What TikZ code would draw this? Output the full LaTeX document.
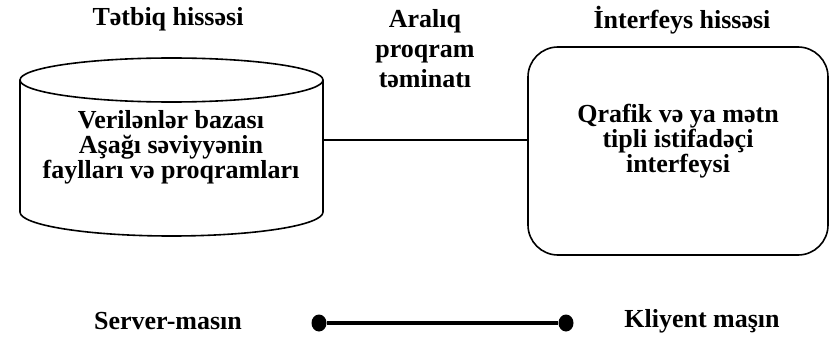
\documentclass[tikz,border=0pt]{standalone}
\usepackage{fontspec}
\setmainfont{Liberation Serif}
\usetikzlibrary{shapes.geometric}
\begin{document}
\begin{tikzpicture}[x=1pt,y=-1pt,
  txt/.style={font=\fontsize{26}{25}\selectfont\bfseries, align=center, inner sep=0pt},
  outline/.style={line width=1.6pt},
  uibox/.style={draw, line width=1.6pt, rounded corners=30pt, minimum width=300pt, minimum height=208pt, inner sep=0pt},
  dotnode/.style={fill=black, ellipse, minimum width=15pt, minimum height=17pt, inner sep=0pt},
  thickline/.style={line width=4.5pt}]
\useasboundingbox (0,0) rectangle (838,337);
% titles
\node[txt] (t1) at (168,19) {Tətbiq hissəsi};
\node[txt, font=\fontsize{26}{30}\selectfont\bfseries] (t2) at (425,49) {Aralıq\\proqram\\təminatı};
\node[txt] (t3) at (682,20) {İnterfeys hissəsi};
% cylinder
\draw[outline] (171.5,80) ellipse [x radius=151.5, y radius=22];
\draw[outline] (20,80) -- (20,212) arc[start angle=180, end angle=0, x radius=151.5, y radius=24] -- (323,80);
\node[inner sep=0pt, minimum width=303pt, minimum height=132pt] (db) at (171.5,146) {};
\node[txt] (dbtext) at (171,147) {Verilənlər bazası\\Aşağı səviyyənin\\faylları və proqramları};
% interface box
\node[uibox] (ui) at (678,151) {};
\node[txt] (uitext) at (678,141) {Qrafik və ya mətn\\tipli istifadəçi\\interfeysi};
% connector
\coordinate (dbR) at (323,140);
\draw[outline] (dbR) -- (ui.west |- dbR);
% bottom row
\node[txt] (srv) at (168,321) {Server-masın};
\node[txt] (cli) at (702,321) {Kliyent maşın};
\node[dotnode] (d1) at (319,323) {};
\node[dotnode] (d2) at (566,323) {};
\draw[thickline] (d1) -- (d2);
\end{tikzpicture}
\end{document}
